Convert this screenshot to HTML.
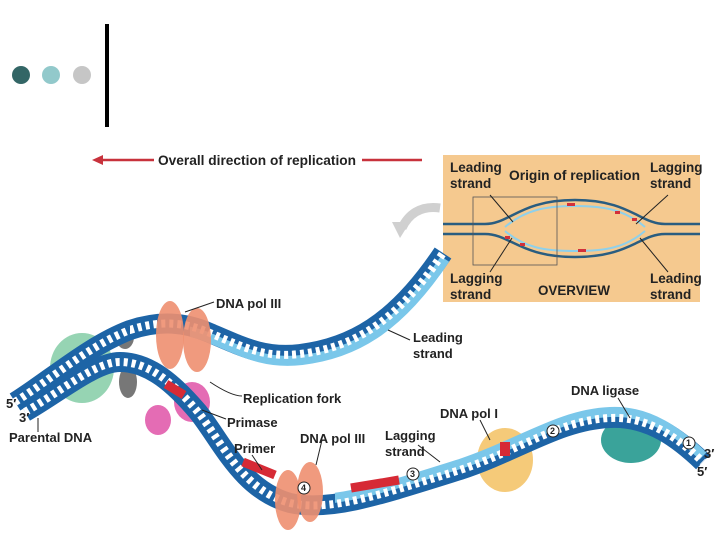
<!DOCTYPE html>
<html><head><style>
html,body{margin:0;padding:0;background:#fff;}
svg{display:block;}
text{font-family:"Liberation Sans",sans-serif;font-weight:bold;fill:#222;}
</style></head><body>
<svg width="720" height="540" viewBox="0 0 720 540" xmlns="http://www.w3.org/2000/svg">
<defs>
<clipPath id="cu"><rect x="190" y="0" width="530" height="540"/></clipPath>
<clipPath id="cl"><rect x="335" y="0" width="385" height="540"/></clipPath>
<path id="up" d="M15,402 C50,380 90,345 130,330 C160,320 185,322 210,333 C245,348 265,358 300,354 C350,348 395,325 443,253"/>
<path id="lo" d="M25,412 C60,392 95,362 120,362 C150,362 175,385 198,412 C222,442 242,490 290,503 C330,512 380,495 460,470 C520,450 560,420 610,418 C650,416 680,440 703,462"/>
</defs>
<rect width="720" height="540" fill="#fff"/>
<circle cx="21" cy="75" r="9" fill="#336666"/>
<circle cx="51" cy="75" r="9" fill="#92c9cb"/>
<circle cx="82" cy="75" r="9" fill="#c6c6c6"/>
<rect x="105" y="24" width="4" height="103" fill="#000"/>

<line x1="100" y1="160" x2="154" y2="160" stroke="#c8323c" stroke-width="2.5"/>
<polygon points="92,160 103,155 103,165" fill="#c8323c"/>
<text x="158" y="165" font-size="13.5" textLength="198" lengthAdjust="spacingAndGlyphs">Overall direction of replication</text>
<line x1="362" y1="160" x2="422" y2="160" stroke="#c8323c" stroke-width="2.5"/>

<rect x="443" y="155" width="257" height="147" fill="#f5c98f"/>
<g fill="none" stroke="#2a5d80" stroke-width="2.5">
<path d="M443,224 L485,224 C510,224 520,200 575,200 C630,200 640,224 665,224 L700,224"/>
<path d="M443,234 L485,234 C510,234 520,257 575,257 C630,257 640,234 665,234 L700,234"/>
</g>
<g fill="none" stroke="#8fd0ea" stroke-width="2">
<path d="M505,227 C525,210 545,206 575,206 C605,206 625,210 645,227"/>
<path d="M505,231 C525,248 545,251 575,251 C605,251 625,248 645,231"/>
</g>
<rect x="473" y="197" width="84" height="68" fill="none" stroke="#555" stroke-width="0.8"/>
<g fill="#d2303a"><rect x="567" y="203" width="8" height="3"/><rect x="578" y="249" width="8" height="3"/><rect x="615" y="211" width="5" height="3"/><rect x="632" y="218" width="5" height="3"/><rect x="505" y="236" width="5" height="3"/><rect x="520" y="243" width="5" height="3"/></g>
<g stroke="#222" stroke-width="1"><line x1="490" y1="195" x2="513" y2="222"/><line x1="668" y1="195" x2="636" y2="224"/><line x1="490" y1="272" x2="512" y2="238"/><line x1="668" y1="272" x2="640" y2="238"/></g>
<g font-size="13.5">
<text x="450" y="172">Leading</text><text x="450" y="188">strand</text>
<text x="509" y="180" textLength="131" lengthAdjust="spacingAndGlyphs">Origin of replication</text>
<text x="650" y="172">Lagging</text><text x="650" y="188">strand</text>
<text x="450" y="283">Lagging</text><text x="450" y="299">strand</text>
<text x="538" y="295" textLength="72" lengthAdjust="spacingAndGlyphs">OVERVIEW</text>
<text x="650" y="283">Leading</text><text x="650" y="299">strand</text>
</g>
<path d="M440,208 C420,205 408,215 402,228" fill="none" stroke="#d0d0d0" stroke-width="9"/>
<polygon points="392,222 410,222 400,238" fill="#d0d0d0"/>

<ellipse cx="82" cy="368" rx="32" ry="35" fill="#7cc9a0" opacity="0.8"/>
<ellipse cx="505" cy="460" rx="28" ry="32" fill="#f4c46a" opacity="0.9"/>
<ellipse cx="631" cy="440" rx="30" ry="23" fill="#3aa39a"/>
<ellipse cx="158" cy="420" rx="13" ry="15" fill="#e46cb4"/>
<ellipse cx="192" cy="402" rx="18" ry="20" fill="#e46cb4"/>
<ellipse cx="125" cy="337" rx="9" ry="12" fill="#777"/>
<ellipse cx="128" cy="382" rx="9" ry="16" fill="#777"/>

<use href="#up" fill="none" stroke="#1d64a6" stroke-width="20"/>
<use href="#lo" fill="none" stroke="#1d64a6" stroke-width="20"/>
<g clip-path="url(#cu)"><use href="#up" fill="none" stroke="#7ac7ea" stroke-width="10" transform="translate(2,6)"/></g>
<g clip-path="url(#cl)"><use href="#lo" fill="none" stroke="#7ac7ea" stroke-width="10" transform="translate(0,-6)"/></g>
<use href="#up" fill="none" stroke="#fff" stroke-width="8" stroke-dasharray="4 4"/>
<use href="#lo" fill="none" stroke="#fff" stroke-width="8" stroke-dasharray="4 4"/>
<path d="M243,462 L275,475" stroke="#d62a35" stroke-width="9"/>
<path d="M351,488 L399,480" stroke="#d62a35" stroke-width="9"/>
<path d="M166,384 L184,395" stroke="#d62a35" stroke-width="9"/>
<rect x="500" y="442" width="10" height="14" fill="#d62a35"/>

<ellipse cx="170" cy="335" rx="14" ry="34" fill="#ee8f70" opacity="0.9"/>
<ellipse cx="197" cy="340" rx="14" ry="32" fill="#ee8f70" opacity="0.9"/>
<ellipse cx="288" cy="500" rx="13" ry="30" fill="#ee8f70" opacity="0.9"/>
<ellipse cx="310" cy="492" rx="13" ry="30" fill="#ee8f70" opacity="0.9"/>

<g stroke="#222" stroke-width="1" fill="none">
<line x1="185" y1="312" x2="214" y2="302"/>
<line x1="388" y1="330" x2="410" y2="340"/>
<path d="M210,382 C225,392 235,396 242,396"/>
<line x1="202" y1="410" x2="226" y2="419"/>
<line x1="38" y1="418" x2="38" y2="432"/>
<line x1="252" y1="455" x2="262" y2="470"/>
<line x1="322" y1="440" x2="316" y2="465"/>
<line x1="418" y1="445" x2="440" y2="462"/>
<line x1="480" y1="420" x2="490" y2="440"/>
<line x1="618" y1="398" x2="630" y2="418"/>
</g>
<g font-size="13">
<text x="216" y="308">DNA pol III</text>
<text x="413" y="342">Leading</text><text x="413" y="358">strand</text>
<text x="243" y="403">Replication fork</text>
<text x="227" y="427">Primase</text>
<text x="9" y="442">Parental DNA</text>
<text x="6" y="408">5′</text>
<text x="19" y="422">3′</text>
<text x="234" y="453">Primer</text>
<text x="300" y="443">DNA pol III</text>
<text x="385" y="440">Lagging</text><text x="385" y="456">strand</text>
<text x="440" y="418">DNA pol I</text>
<text x="571" y="395">DNA ligase</text>
<text x="704" y="458">3′</text>
<text x="697" y="476">5′</text>
</g>
<g fill="#fff" stroke="#222" stroke-width="1"><circle cx="689" cy="443" r="6"/><circle cx="553" cy="431" r="6"/><circle cx="413" cy="474" r="6"/><circle cx="304" cy="488" r="6"/></g>
<g font-size="9" font-weight="normal"><text x="686" y="446">1</text><text x="550" y="434">2</text><text x="410" y="477">3</text><text x="301" y="491">4</text></g>
</svg>
</body></html>
